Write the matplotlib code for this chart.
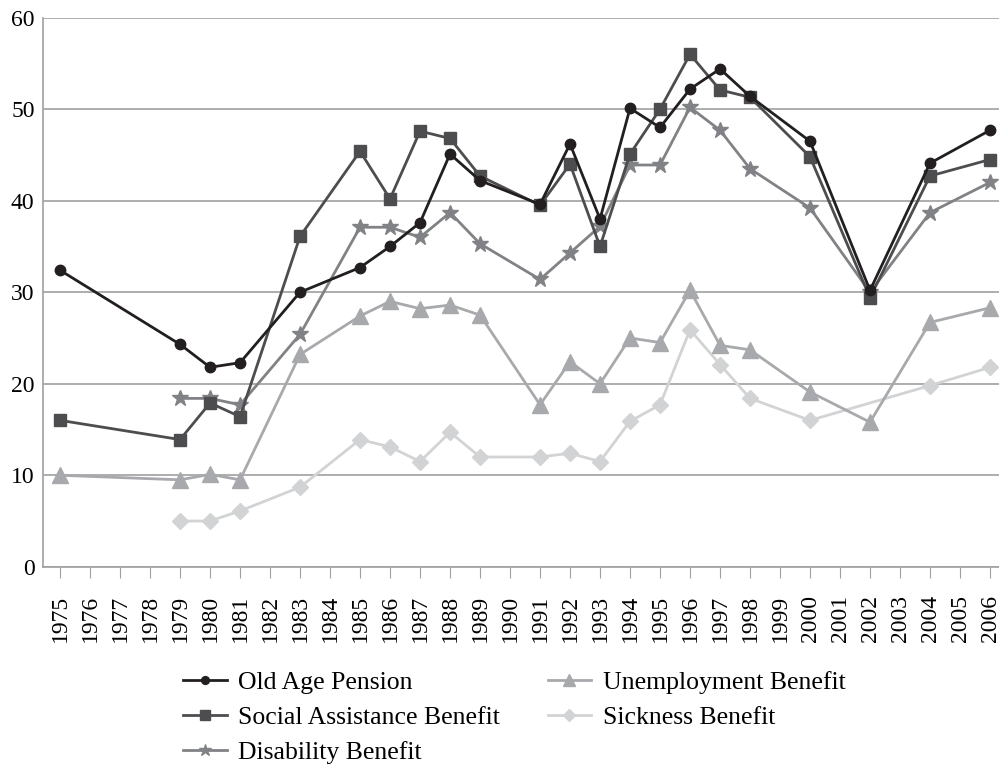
import numpy as np
import matplotlib.pyplot as plt

plt.rcParams['font.family'] = ['Liberation Serif', 'DejaVu Serif']

years = list(range(1975, 2007))

old_years = [1975, 1979, 1980, 1981, 1983, 1985, 1986, 1987, 1988, 1989, 1991, 1992,
             1993, 1994, 1995, 1996, 1997, 1998, 2000, 2002, 2004, 2006]
old_age = [32.4, 24.3, 21.8, 22.3, 30.0, 32.7, 35.0, 37.6, 45.1, 42.2, 39.6, 46.2,
           38.0, 50.1, 48.0, 52.2, 54.4, 51.4, 46.5, 30.2, 44.1, 47.7]

soc_years = old_years
social = [16.0, 13.9, 17.9, 16.4, 36.1, 45.4, 40.2, 47.6, 46.8, 42.7, 39.5, 44.0,
          35.0, 45.1, 50.0, 56.0, 52.1, 51.3, 44.8, 29.4, 42.7, 44.5]

dis_years = [1979, 1980, 1981, 1983, 1985, 1986, 1987, 1988, 1989, 1991, 1992,
             1993, 1994, 1995, 1996, 1997, 1998, 2000, 2002, 2004, 2006]
disability = [18.4, 18.4, 17.7, 25.4, 37.1, 37.1, 36.0, 38.7, 35.3, 31.4, 34.3,
              37.2, 43.9, 43.9, 50.2, 47.7, 43.5, 39.2, 30.0, 38.7, 42.0]

unemp_years = old_years
unemployment = [10.0, 9.5, 10.1, 9.5, 23.2, 27.4, 29.0, 28.2, 28.6, 27.5, 17.7, 22.4,
                20.0, 25.0, 24.5, 30.2, 24.2, 23.7, 19.1, 15.8, 26.7, 28.3]

sick_years = [1979, 1980, 1981, 1983, 1985, 1986, 1987, 1988, 1989, 1991, 1992,
              1993, 1994, 1995, 1996, 1997, 1998, 2000, 2004, 2006]
sickness = [5.0, 5.0, 6.1, 8.7, 13.9, 13.1, 11.5, 14.7, 12.0, 12.0, 12.4,
            11.5, 15.9, 17.7, 25.9, 22.1, 18.4, 16.0, 19.8, 21.8]

fig = plt.figure(figsize=(9.99, 7.68), dpi=100)
ax = fig.add_axes([0.043, 0.262, 0.957, 0.715])

ax.plot(old_years, old_age, color='#231f20', lw=2, marker='o', ms=7.5,
        label='Old Age Pension', zorder=6)
ax.plot(soc_years, social, color='#4d4d4f', lw=2, marker='s', ms=9,
        label='Social Assistance Benefit', zorder=5)
ax.plot(dis_years, disability, color='#808285', lw=2, marker='*', ms=12,
        label='Disability Benefit', zorder=4)
ax.plot(unemp_years, unemployment, color='#a7a9ac', lw=2, marker='^', ms=11,
        label='Unemployment Benefit', zorder=3)
ax.plot(sick_years, sickness, color='#d1d3d4', lw=2, marker='D', ms=8,
        label='Sickness Benefit', zorder=2)

ax.set_xlim(1974.43, 2006.3)
ax.set_ylim(0, 60)
ax.set_yticks(np.arange(0, 61, 10))
ax.set_xticks(years)
ax.set_xticklabels([str(y) for y in years], rotation=90, fontsize=17)
ax.tick_params(axis='y', length=0, labelsize=17, pad=6)
ax.tick_params(axis='x', length=8, color='#a0a0a0', pad=12)
ax.grid(axis='y', color='#a0a0a0', lw=1.2)
ax.set_axisbelow(True)
for s in ['top', 'right']:
    ax.spines[s].set_visible(False)
for s in ['left', 'bottom']:
    ax.spines[s].set_color('#a0a0a0')
    ax.spines[s].set_linewidth(1.2)

fig.legend(loc='upper left', bbox_to_anchor=(183 / 999, 1 - 671 / 768), ncol=2,
           frameon=False, fontsize=18.5, handlelength=1.7, columnspacing=1.85,
           labelspacing=0.47, handletextpad=0.45, borderpad=0, borderaxespad=0,
           markerscale=0.75)

fig.savefig('out.png', dpi=100)
